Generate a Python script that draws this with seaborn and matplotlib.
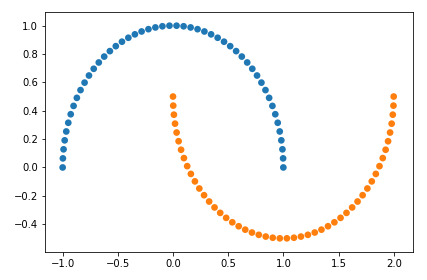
import matplotlib
matplotlib.use("Agg")
import matplotlib.pyplot as plt
import seaborn as sns
import pandas as pd

# Outer moon (class 0)
upper_x = [1.0, 0.9979, 0.9918, 0.9816, 0.9673, 0.9491, 0.9269, 0.9010, 0.8713, 0.8381,
           0.8014, 0.7615, 0.7185, 0.6725, 0.6235, 0.5721, 0.5183, 0.4625, 0.4047, 0.3453,
           0.2845, 0.2225, 0.1596, 0.0960, 0.0321,
           -0.0321, -0.0960, -0.1596, -0.2225, -0.2845, -0.3453, -0.4047, -0.4625, -0.5183, -0.5721,
           -0.6235, -0.6725, -0.7185, -0.7615, -0.8014, -0.8381, -0.8713, -0.9010, -0.9269, -0.9491,
           -0.9673, -0.9816, -0.9918, -0.9979, -1.0]
upper_y = [0.0, 0.0641, 0.1279, 0.1912, 0.2537, 0.3151, 0.3752, 0.4339, 0.4907, 0.5455,
           0.5981, 0.6482, 0.6956, 0.7401, 0.7818, 0.8202, 0.8552, 0.8866, 0.9144, 0.9385,
           0.9587, 0.9749, 0.9872, 0.9954, 0.9995,
           0.9995, 0.9954, 0.9872, 0.9749, 0.9587, 0.9385, 0.9144, 0.8866, 0.8552, 0.8202,
           0.7818, 0.7401, 0.6956, 0.6482, 0.5981, 0.5455, 0.4907, 0.4339, 0.3752, 0.3151,
           0.2537, 0.1912, 0.1279, 0.0641, 0.0]

# Inner moon (class 1)
lower_x = [0.0, 0.0021, 0.0082, 0.0184, 0.0327, 0.0509, 0.0731, 0.0990, 0.1287, 0.1619,
           0.1986, 0.2385, 0.2815, 0.3275, 0.3765, 0.4279, 0.4817, 0.5375, 0.5953, 0.6547,
           0.7155, 0.7775, 0.8404, 0.9040, 0.9679,
           1.0321, 1.0960, 1.1596, 1.2225, 1.2845, 1.3453, 1.4047, 1.4625, 1.5183, 1.5721,
           1.6235, 1.6725, 1.7185, 1.7615, 1.8014, 1.8381, 1.8713, 1.9010, 1.9269, 1.9491,
           1.9673, 1.9816, 1.9918, 1.9979, 2.0]
lower_y = [0.5, 0.4359, 0.3721, 0.3088, 0.2463, 0.1849, 0.1248, 0.0661, 0.0093, -0.0455,
           -0.0981, -0.1482, -0.1956, -0.2401, -0.2818, -0.3202, -0.3552, -0.3866, -0.4144, -0.4385,
           -0.4587, -0.4749, -0.4872, -0.4954, -0.4995,
           -0.4995, -0.4954, -0.4872, -0.4749, -0.4587, -0.4385, -0.4144, -0.3866, -0.3552, -0.3202,
           -0.2818, -0.2401, -0.1956, -0.1482, -0.0981, -0.0455, 0.0093, 0.0661, 0.1248, 0.1849,
           0.2463, 0.3088, 0.3721, 0.4359, 0.5]

df = pd.DataFrame({
    "x": upper_x + lower_x,
    "y": upper_y + lower_y,
    "label": [0] * len(upper_x) + [1] * len(lower_x),
})

fig = plt.figure(figsize=(427 / 72, 280 / 72), dpi=72)
ax = fig.add_axes([45 / 427, 28 / 280, 368 / 427, 240 / 280])
sns.scatterplot(data=df, x="x", y="y", hue="label",
                palette=["#1f77b4", "#ff7f0e"], s=45, linewidth=0,
                legend=False, ax=ax)
ax.set_xlim(-1.16, 2.175)
ax.set_ylim(-0.596, 1.096)
ax.set_xlabel("")
ax.set_ylabel("")
fig.savefig("out.png", dpi=72)
